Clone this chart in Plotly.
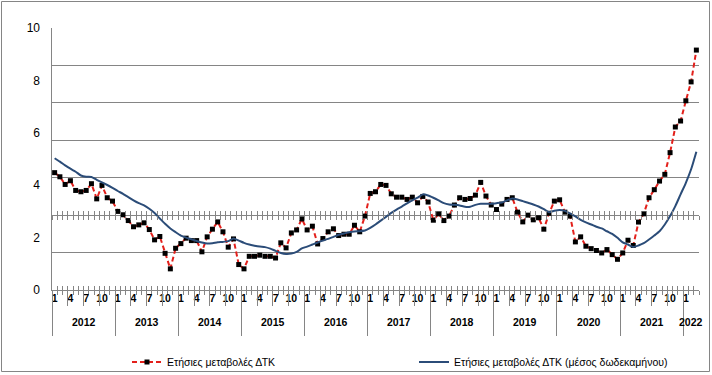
import numpy as np
import plotly.graph_objects as go

# ---------------- data ----------------
years = [2012, 2013, 2014, 2015, 2016, 2017, 2018, 2019, 2020, 2021, 2022]
months_per_year = [12, 12, 12, 12, 12, 12, 12, 12, 12, 12, 3]
shown_months = [1, 4, 7, 10]

series_names = ["Ετήσιες μεταβολές ΔΤΚ", "Ετήσιες μεταβολές ΔΤΚ (μέσος δωδεκαμήνου)"]

cpi_annual = [
    2.27, 2.05, 1.64, 1.84, 1.32, 1.25, 1.32, 1.68, 0.87, 1.59, 0.93, 0.75,        # 2012
    0.20, 0.02, -0.29, -0.62, -0.52, -0.41, -0.77, -1.32, -1.14, -2.04, -2.87, -1.77,  # 2013
    -1.52, -1.23, -1.36, -1.36, -1.96, -1.16, -0.75, -0.36, -0.89, -1.71, -1.27, -2.64,  # 2014
    -2.87, -2.20, -2.20, -2.14, -2.20, -2.20, -2.29, -1.48, -1.75, -0.95, -0.79, -0.20,  # 2015
    -0.79, -0.59, -1.54, -1.25, -0.89, -0.73, -1.09, -1.02, -1.02, -0.54, -0.89, -0.05,  # 2016
    1.16, 1.25, 1.64, 1.59, 1.14, 0.96, 0.96, 0.84, 0.96, 0.66, 1.00, 0.70,        # 2017
    -0.27, 0.07, -0.29, -0.05, 0.54, 0.93, 0.84, 0.89, 1.07, 1.75, 1.02, 0.54,     # 2018
    0.30, 0.59, 0.84, 0.93, 0.16, -0.36, 0.00, -0.25, -0.14, -0.75, 0.10, 0.75,    # 2019
    0.82, 0.16, -0.05, -1.43, -1.16, -1.66, -1.79, -1.89, -2.02, -1.84, -2.11, -2.36,  # 2020
    -2.02, -1.34, -1.62, -0.37, 0.07, 0.93, 1.36, 1.82, 2.18, 3.34, 4.71, 5.03,    # 2021
    6.11, 7.12, 8.82,                                                              # 2022
]

cpi_avg12 = [
    3.04, 2.86, 2.66, 2.48, 2.32, 2.12, 2.05, 2.04, 1.89, 1.75, 1.61, 1.46,
    1.29, 1.14, 0.96, 0.79, 0.64, 0.52, 0.34, 0.11, -0.18, -0.46, -0.71, -0.91,
    -1.09, -1.20, -1.29, -1.38, -1.46, -1.52, -1.50, -1.45, -1.43, -1.39, -1.25, -1.36,
    -1.48, -1.57, -1.63, -1.68, -1.71, -1.79, -1.91, -2.02, -2.07, -2.05, -1.96, -1.78,
    -1.68, -1.57, -1.46, -1.36, -1.27, -1.16, -1.05, -0.98, -0.91, -0.87, -0.86, -0.82,
    -0.68, -0.50, -0.29, -0.09, 0.12, 0.30, 0.46, 0.63, 0.79, 0.93, 1.11, 1.05,
    0.93, 0.79, 0.64, 0.57, 0.55, 0.52, 0.45, 0.45, 0.55, 0.61, 0.61, 0.61,
    0.64, 0.68, 0.79, 0.89, 0.84, 0.75, 0.66, 0.57, 0.46, 0.32, 0.16, 0.23,
    0.27, 0.23, 0.09, -0.07, -0.25, -0.39, -0.50, -0.62, -0.71, -0.86, -1.00, -1.21,
    -1.45, -1.57, -1.70, -1.62, -1.50, -1.30, -1.09, -0.86, -0.50, -0.05, 0.48, 1.11,
    1.73, 2.45, 3.39,
]

y_min, y_max, y_step = -4, 10, 2
y_tick_text = ["0", "2", "4", "6", "8", "10"]

# ---------------- derived categories ----------------
period_year = [y for y, n in zip(years, months_per_year) for _ in range(n)]
period_month = [m + 1 for y, n in zip(years, months_per_year) for m in range(n)]
n = len(period_year)
idx = np.arange(n)
x_range = [-0.5, n - 0.5]

GRID = "#858585"
FONT = "Liberation Sans"

fig = go.Figure()
fig.add_trace(go.Scatter(
    x=idx, y=cpi_annual, mode="lines+markers", name=series_names[0],
    line=dict(color="#E3201B", width=2, dash="5px,3px"),
    marker=dict(symbol="square", size=5, color="black"),
))
fig.add_trace(go.Scatter(
    x=idx, y=cpi_avg12, mode="lines", name=series_names[1],
    line=dict(color="#2B4C78", width=2, shape="spline", smoothing=0.6),
))

# placeholder traces so that the decorative overlay axes are drawn
for xa, ya in [("x2", "y"), ("x3", "y"), ("x4", "y"), ("x5", "y"), ("x6", "y"), ("x7", "y"), ("x", "y2")]:
    fig.add_trace(go.Scatter(x=[0], y=[None], xaxis=xa, yaxis=ya, mode="markers",
                             marker=dict(opacity=0), showlegend=False, hoverinfo="skip"))

month_bounds = list(idx - 0.5) + [n - 0.5]
label_pos = [int(i) for i in idx if period_month[i] in shown_months]
label_txt = [str(period_month[i]) for i in label_pos]
quarter_bounds = [i - 0.5 for i in idx if (period_month[i] - 1) % 3 == 0]
year_bounds = [i - 0.5 for i in idx if period_month[i] == 1]
zero_pos = (0 - y_min) / (y_max - y_min)

base_x = dict(range=x_range, autorange=False, showgrid=False, zeroline=False, tickmode="array",
              showticklabels=False, tickcolor=GRID, tickwidth=1, fixedrange=True,
              automargin=False)

fig.update_layout(
    width=712, height=375,
    margin=dict(l=52, r=13, t=28, b=85, autoexpand=False),
    paper_bgcolor="white", plot_bgcolor="white",
    font=dict(family=FONT, size=11, color="black"),
    showlegend=True,
    legend=dict(orientation="h", x=(127 - 52) / 647, xanchor="left",
                y=(290 - 362) / 262, yanchor="middle",
                entrywidth=242, entrywidthmode="pixels",
                font=dict(family=FONT, size=10.5), bgcolor="rgba(0,0,0,0)"),
    xaxis=dict(**base_x, tickvals=month_bounds, ticks="outside", ticklen=4,
               showline=True, linecolor=GRID, linewidth=1),
    xaxis2=dict(**base_x, overlaying="x", anchor="y", tickvals=month_bounds,
                ticks="inside", ticklen=4, showline=False),
    xaxis3=dict(range=x_range, autorange=False, overlaying="x", anchor="y", showgrid=False,
                zeroline=False, tickmode="array", tickvals=label_pos, ticktext=label_txt,
                ticks="", showline=False, fixedrange=True, automargin=False,
                tickfont=dict(family=FONT, size=10.5, weight="bold")),
    xaxis4=dict(**base_x, overlaying="x", anchor="y", tickvals=quarter_bounds,
                ticks="outside", ticklen=15, showline=False),
    xaxis5=dict(**base_x, overlaying="x", anchor="y", tickvals=year_bounds,
                ticks="outside", ticklen=45, showline=False),
    xaxis6=dict(**base_x, overlaying="x", anchor="free", position=zero_pos,
                tickvals=month_bounds, ticks="outside", ticklen=4, showline=False),
    xaxis7=dict(**base_x, overlaying="x", anchor="free", position=zero_pos,
                tickvals=month_bounds, ticks="inside", ticklen=4, showline=False),
    yaxis=dict(range=[y_min, y_max], autorange=False, tickmode="array",
               tickvals=list(np.arange(y_min, y_max + 0.001, y_step)),
               showticklabels=False, ticks="", showgrid=True, gridcolor=GRID, gridwidth=1,
               zeroline=False, showline=True, linecolor=GRID, linewidth=1, fixedrange=True,
               automargin=False),
    yaxis2=dict(range=[y_min, y_max], autorange=False, overlaying="y", anchor="x", side="left",
                tickmode="array", tickvals=list(np.linspace(y_min, y_max, len(y_tick_text))),
                ticktext=y_tick_text, ticks="", showgrid=False, zeroline=False,
                showline=False, ticklabelstandoff=11, automargin=False,
                tickfont=dict(family=FONT, size=12), fixedrange=True),
)

# year labels
for yv in years:
    pos = [i for i in idx if period_year[i] == yv]
    fig.add_annotation(x=float(np.mean(pos)), y=(290 - 322) / 262, xref="x", yref="paper",
                       text=str(yv), showarrow=False, yanchor="middle",
                       font=dict(family=FONT, size=10.5, weight="bold"))

# outer chart border
fig.add_shape(type="rect", xref="paper", yref="paper",
              x0=(1.5 - 52) / 647, x1=(709.5 - 52) / 647,
              y0=(290 - 371.5) / 262, y1=(290 - 1.5) / 262,
              line=dict(color=GRID, width=1), fillcolor="rgba(0,0,0,0)", layer="below")

fig.write_html(
    "out.html",
    config={"displayModeBar": False},
    post_script="document.body.style.margin='0';document.body.style.overflow='hidden';",
)
